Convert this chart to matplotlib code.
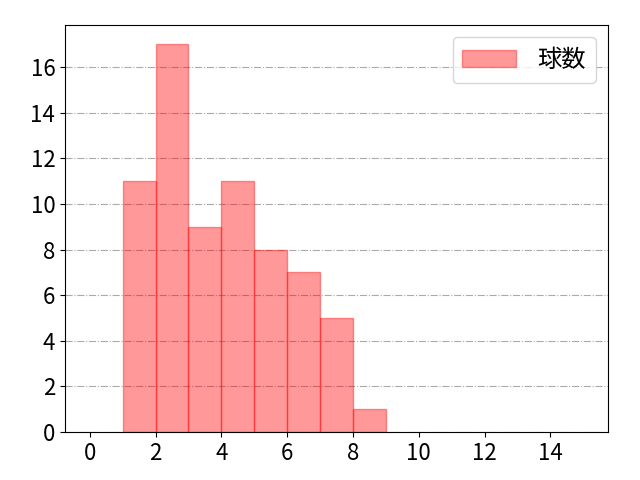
import numpy as np
import matplotlib.pyplot as plt

plt.rcParams['font.family'] = ['Noto Sans CJK JP', 'DejaVu Sans']

# pitch counts per bin
bin_edges = [1, 2, 3, 4, 5, 6, 7, 8, 9]
counts = [11, 17, 9, 11, 8, 7, 5, 1]
label = '球数'

fig = plt.figure(figsize=(6.4, 4.8), dpi=100)
ax = fig.add_axes([0.1016, 0.1, 0.8484, 0.848])
ax.hist(bin_edges[:-1], bins=bin_edges, weights=counts, color='red', alpha=0.4,
        edgecolor='red', linewidth=1, label=label)
ax.grid(axis='y', linestyle='-.', color='#aaaaaa', linewidth=0.8)
ax.set_axisbelow(True)
ax.set_xlim(-0.75, 15.75)
ax.set_ylim(0, 17.85)
ax.set_xticks(range(0, 15, 2))
ax.set_yticks(range(0, 17, 2))
ax.tick_params(labelsize=16)
ax.legend(fontsize=17.5, handlelength=2.2, handletextpad=0.9, borderpad=0.4)
fig.savefig('out.png')
